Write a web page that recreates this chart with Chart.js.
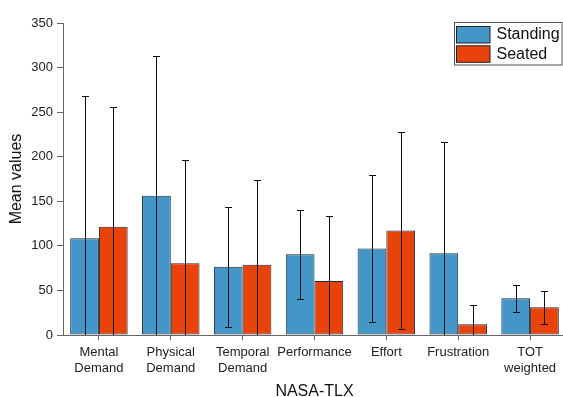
<!DOCTYPE html>
<html>
<head>
<meta charset="utf-8">
<script src="https://cdn.jsdelivr.net/npm/chart.js@4.4.1/dist/chart.umd.min.js"></script>
<style>
html,body{margin:0;padding:0;background:#fff;overflow:hidden;}
#c{display:block;}
</style>
</head>
<body>
<canvas id="c" width="566" height="397"></canvas>
<script>
const categories = [['Mental','Demand'],['Physical','Demand'],['Temporal','Demand'],'Performance','Effort','Frustration',['TOT','weighted']];
const seriesNames = ['Standing','Seated'];
const standingMeans = [108.5, 156.3, 76.5, 90.5, 97, 91.6, 41.1];
const seatedMeans   = [121.5, 80.4, 78.9, 60.6, 117.2, 12.0, 31.2];
const standingSD    = [160, 156.7, 67.3, 50.1, 82.5, 125.3, 15];
const seatedSD      = [134.6, 115.9, 94.6, 73.3, 110.5, 22, 18.5];
const yTicks = [0,50,100,150,200,250,300,350];

const FONT = 'Liberation Sans, Arial, Helvetica, sans-serif';
const blue = '#4596c8';
const red = '#e8430b';
const axisCol = '#666';

const errorBars = {
  id: 'errorBars',
  afterDatasetsDraw(chart) {
    const ctx = chart.ctx, ys = chart.scales.y, area = chart.chartArea;
    const sds = [standingSD, seatedSD];
    ctx.save();
    ctx.beginPath();
    ctx.rect(area.left, area.top - 5, area.right - area.left, area.bottom - area.top + 5);
    ctx.clip();
    ctx.strokeStyle = '#111';
    ctx.lineWidth = 1;
    chart.data.datasets.forEach((ds, di) => {
      const meta = chart.getDatasetMeta(di);
      meta.data.forEach((bar, i) => {
        const m = ds.data[i], s = sds[di][i];
        const x = Math.round(bar.x) + 0.5;
        const yt = Math.round(ys.getPixelForValue(m + s)) + 0.5;
        const yb = Math.round(ys.getPixelForValue(m - s)) + 0.5;
        ctx.beginPath();
        ctx.moveTo(x, yt); ctx.lineTo(x, yb);
        ctx.moveTo(x - 3.5, yt); ctx.lineTo(x + 3.5, yt);
        ctx.moveTo(x - 3.5, yb); ctx.lineTo(x + 3.5, yb);
        ctx.stroke();
      });
    });
    ctx.restore();
  }
};

const boxLegend = {
  id: 'boxLegend',
  afterDraw(chart) {
    const ctx = chart.ctx;
    ctx.save();
    ctx.strokeStyle = '#555';
    ctx.lineWidth = 1;
    ctx.fillStyle = '#fff';
    ctx.fillRect(454.5, 22.5, 107.5, 42.5);
    ctx.strokeRect(454.5, 22.5, 107.5, 42.5);
    ctx.font = '16px ' + FONT;
    ctx.textBaseline = 'middle';
    chart.data.datasets.forEach((ds, i) => {
      const y = 26.5 + i * 19.3;
      ctx.fillStyle = ds.backgroundColor;
      ctx.fillRect(456.5, y, 33.5, 16.5);
      ctx.strokeStyle = '#222';
      ctx.strokeRect(456.5, y, 33.5, 16.5);
      ctx.fillStyle = '#111';
      ctx.fillText(ds.label, 496.5, y + 8.5);
    });
    ctx.restore();
  }
};

new Chart(document.getElementById('c'), {
  type: 'bar',
  data: {
    labels: categories,
    datasets: [
      {label: seriesNames[0], data: standingMeans, backgroundColor: blue, borderColor: '#1e2a33', borderWidth: 1, borderSkipped: false},
      {label: seriesNames[1], data: seatedMeans, backgroundColor: red, borderColor: '#1e2a33', borderWidth: 1, borderSkipped: false}
    ]
  },
  options: {
    responsive: false,
    animation: false,
    devicePixelRatio: 1,
    layout: {padding: {top: 23, right: 0, left: 7, bottom: 0}},
    plugins: {legend: {display: false}, tooltip: {enabled: false}},
    datasets: {bar: {barPercentage: 1, categoryPercentage: 0.8}},
    scales: {
      x: {
        grid: {display: true, drawOnChartArea: false, drawTicks: true, tickLength: 5, offset: false, color: axisCol},
        border: {display: true, color: axisCol, width: 1},
        ticks: {font: {family: FONT, size: 13}, color: '#222', padding: 5, maxRotation: 0, autoSkip: false},
        title: {display: true, text: 'NASA-TLX', font: {family: FONT, size: 16, lineHeight: 0.7}, color: '#111', padding: {top: 4, bottom: 0}},
        afterFit(s) { s.height = 62; }
      },
      y: {
        min: 0, max: 350,
        afterBuildTicks(s) { s.ticks = yTicks.map(v => ({value: v})); },
        grid: {display: true, drawOnChartArea: false, drawTicks: true, tickLength: 6, color: axisCol},
        border: {display: true, color: axisCol, width: 1},
        ticks: {font: {family: FONT, size: 13}, color: '#222', padding: 4},
        title: {display: true, text: 'Mean values', font: {family: FONT, size: 16}, color: '#111', padding: {top: 0, bottom: 4}},
        afterFit(s) { s.width = 56; }
      }
    }
  },
  plugins: [errorBars, boxLegend]
});
</script>
</body>
</html>
